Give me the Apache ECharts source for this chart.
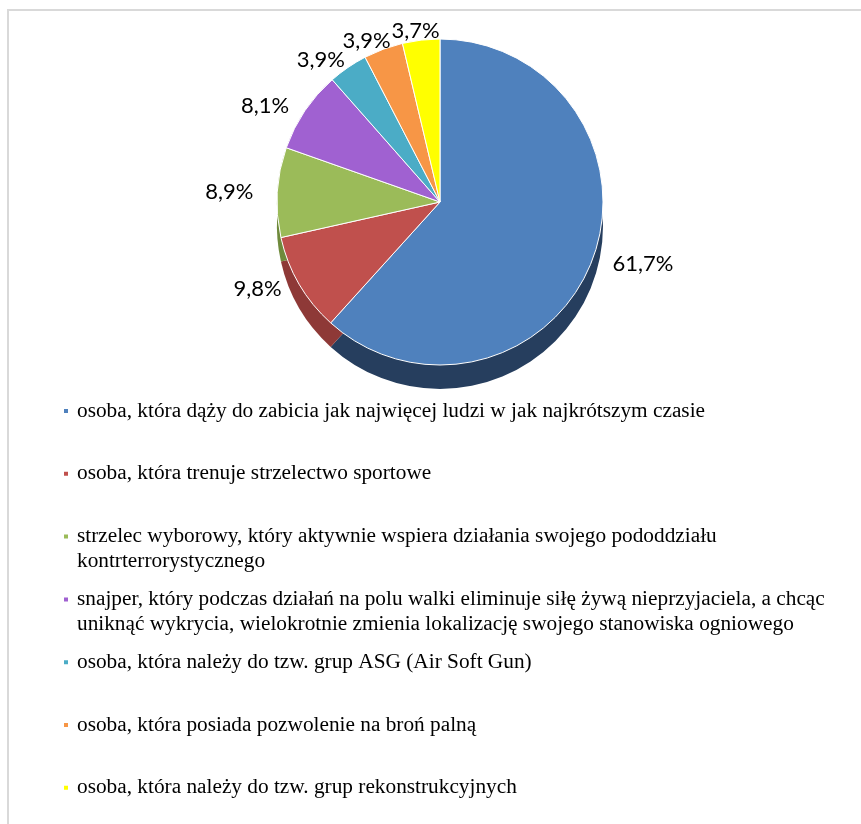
<!DOCTYPE html>
<html>
<head>
<meta charset="utf-8">
<script src="https://cdn.jsdelivr.net/npm/echarts@6/dist/echarts.min.js"></script>
<style>
html,body{margin:0;padding:0;background:#fff;}
#chart{width:861px;height:824px;}
</style>
</head>
<body>
<div id="chart"></div>
<script>
// ---- data ----
const legendLines = [
  ['osoba, która dąży do zabicia jak najwięcej ludzi w jak najkrótszym czasie'],
  ['osoba, która trenuje strzelectwo sportowe'],
  ['strzelec wyborowy, który aktywnie wspiera działania swojego pododdziału', 'kontrterrorystycznego'],
  ['snajper, który podczas działań na polu walki eliminuje siłę żywą nieprzyjaciela, a chcąc', 'uniknąć wykrycia, wielokrotnie zmienia lokalizację swojego stanowiska ogniowego'],
  ['osoba, która należy do tzw. grup ASG (Air Soft Gun)'],
  ['osoba, która posiada pozwolenie na broń palną'],
  ['osoba, która należy do tzw. grup rekonstrukcyjnych']
];
const categories = legendLines.map(l => l.join(' '));
const values = [61.7, 9.8, 8.9, 8.1, 3.9, 3.9, 3.7];
const colors = ['#4F81BD', '#C0504D', '#9BBB59', '#A061D1', '#4BACC6', '#F79646', '#FFFF00'];
const sideColors = ['#263E5E', '#8E3937', '#6F8A3C', '#6E3E98', '#307F94', '#B8692A', '#BDBD00'];

const chart = echarts.init(document.getElementById('chart'), null, {renderer: 'canvas'});

// layout constants
const PIE_CX = 440, PIE_CY = 202, PIE_R = 163, DEPTH = 24;

const lineH = 25;
const legends = categories.map((name, i) => {
  const n = legendLines[i].length;
  const blockH = n === 1 ? lineH : 3 * lineH;
  const firstY = 411 + i * 62.8;
  return {
    data: [name],
    orient: 'vertical',
    left: 62,
    top: firstY - blockH / 2,
    padding: 0,
    icon: 'rect',
    itemWidth: 6,
    itemHeight: 6,
    selectedMode: false,
    formatter: function (nm) {
      const idx = categories.indexOf(nm);
      const lines = legendLines[idx];
      return lines.length === 1 ? lines[0] : '\n' + lines.join('\n');
    },
    textStyle: {
      fontFamily: 'Liberation Serif',
      fontSize: 21.3,
      color: '#000',
      lineHeight: lineH,
      padding: [0, 0, 0, 3]
    }
  };
});

const total = values.reduce((a, b) => a + b, 0);
function labelLayout(p) {
  const i = p.dataIndex;
  let cum = 0;
  for (let k = 0; k < i; k++) cum += values[k];
  const theta = (90 - 360 * (cum + values[i] / 2) / total) * Math.PI / 180;
  const ux = Math.cos(theta), uy = -Math.sin(theta);
  const ex = PIE_CX + PIE_R * ux, ey = PIE_CY + PIE_R * uy;
  const w = p.labelRect.width, h = p.labelRect.height;
  return {
    x: ex + ux * (w / 2 + 24),
    y: ey + uy * (h / 2 - 2),
    align: 'center',
    verticalAlign: 'middle'
  };
}

const option = {
  backgroundColor: '#fff',
  animation: false,
  graphic: [{
    type: 'rect',
    shape: {x: 8, y: 10, width: 900, height: 900},
    style: {fill: 'none', stroke: '#d9d9d9', lineWidth: 2},
    silent: true,
    z: -10
  }],
  legend: legends,
  series: [
    {
      type: 'pie',
      center: [PIE_CX, PIE_CY],
      radius: PIE_R,
      startAngle: 90,
      clockwise: true,
      z: 3,
      avoidLabelOverlap: false,
      data: categories.map((n, i) => ({name: n, value: values[i], itemStyle: {color: colors[i]}})),
      itemStyle: {borderColor: '#fff', borderWidth: 1},
      label: {
        show: true,
        position: 'outside',
        formatter: p => String(p.value).replace('.', ',') + '%',
        fontFamily: 'Lato',
        fontSize: 22,
        color: '#000'
      },
      labelLine: {show: false, length: 10, length2: 0},
      labelLayout: labelLayout,
      emphasis: {disabled: true}
    },
    {
      type: 'pie',
      center: [PIE_CX, PIE_CY + DEPTH],
      radius: PIE_R,
      startAngle: 90,
      clockwise: true,
      z: 2,
      silent: true,
      legendHoverLink: false,
      data: categories.map((n, i) => ({name: n, value: values[i], itemStyle: {color: sideColors[i]}})),
      label: {show: false},
      labelLine: {show: false},
      emphasis: {disabled: true}
    }
  ]
};
chart.setOption(option);
</script>
</body>
</html>
